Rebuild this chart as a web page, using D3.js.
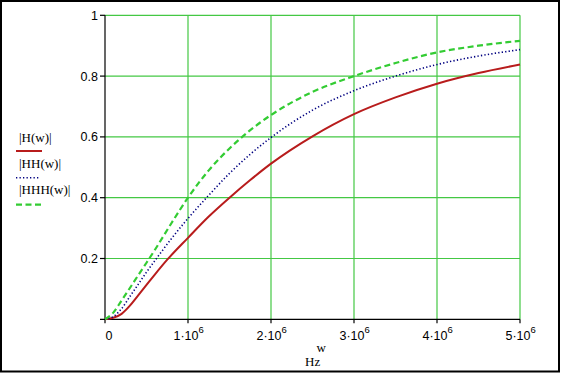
<!DOCTYPE html>
<html><head><meta charset="utf-8">
<script src="https://cdn.jsdelivr.net/npm/d3@7"></script>
<style>html,body{margin:0;padding:0;background:#fff;overflow:hidden}</style>
</head><body>
<svg id="c" width="561" height="384"></svg>
<script>
// w in units of 1e6 Hz
const wH = [0,0.1,0.2,0.3,0.4,0.5,0.6,0.75,1.0,1.25,1.5,1.75,2.0,2.5,3.0,3.5,4.0,4.5,5.0];
const vH = [0,0.005,0.018,0.045,0.079,0.113,0.147,0.196,0.268,0.338,0.4,0.458,0.512,0.602,0.675,0.73,0.775,0.81,0.838];
const wHH = [0,0.1,0.2,0.3,0.4,0.5,0.62,0.8,1.0,1.25,1.5,1.75,2.0,2.5,3.0,3.5,4.0,4.5,5.0];
const vHH = [0,0.009,0.035,0.075,0.115,0.155,0.2,0.265,0.332,0.408,0.48,0.543,0.598,0.688,0.752,0.8,0.838,0.866,0.887];
const wHHH = [0,0.1,0.2,0.3,0.4,0.5,0.6,0.8,1.0,1.25,1.5,1.75,2.0,2.5,3.0,3.5,4.0,4.5,5.0];
const vHHH = [0,0.022,0.062,0.103,0.145,0.186,0.228,0.316,0.40,0.49,0.562,0.622,0.672,0.748,0.80,0.843,0.878,0.9,0.916];
const xTicks = [0,1,2,3,4,5];
const yTicks = [0.2,0.4,0.6,0.8,1];
const yTickLabels = ["0.2","0.4","0.6","0.8","1"];
const legendLabels = ["|H(w)|","|HH(w)|","|HHH(w)|"];

const svg = d3.select("#c");
const x = d3.scaleLinear().domain([0,5]).range([105,520]);
const y = d3.scaleLinear().domain([0,1]).range([319.3,15.3]);
const grid = "#44c844";

svg.append("rect").attr("x",1).attr("y",1).attr("width",558).attr("height",370.5)
  .attr("fill","#fff").attr("stroke","#000").attr("stroke-width",2);

// grid
svg.selectAll(".vg").data(xTicks.slice(1)).enter().append("line")
  .attr("x1",d=>x(d)).attr("x2",d=>x(d)).attr("y1",y(0)).attr("y2",y(1))
  .attr("stroke",grid).attr("stroke-width",1.2);
svg.selectAll(".hg").data(yTicks).enter().append("line")
  .attr("x1",x(0)).attr("x2",x(5)).attr("y1",d=>y(d)).attr("y2",d=>y(d))
  .attr("stroke",grid).attr("stroke-width",1.2);

// axes
svg.append("line").attr("x1",x(0)).attr("x2",x(0)).attr("y1",y(0)).attr("y2",y(1)).attr("stroke","#000").attr("stroke-width",1.2);
svg.append("line").attr("x1",x(0)-5).attr("x2",x(5)).attr("y1",y(0)).attr("y2",y(0)).attr("stroke","#000").attr("stroke-width",1.2);
svg.selectAll(".yt").data(yTicks).enter().append("line")
  .attr("x1",x(0)-5).attr("x2",x(0)).attr("y1",d=>y(d)).attr("y2",d=>y(d)).attr("stroke","#000").attr("stroke-width",1.2);
svg.selectAll(".xt").data(xTicks).enter().append("line")
  .attr("x1",d=>x(d)).attr("x2",d=>x(d)).attr("y1",y(0)).attr("y2",y(0)+4).attr("stroke","#000").attr("stroke-width",1.2);

// y tick labels
svg.selectAll(".yl").data(yTicks).enter().append("text")
  .attr("x",98).attr("y",d=>y(d)+4.5).attr("text-anchor","end")
  .attr("font-family","Liberation Sans, Arial, sans-serif").attr("font-size",12.5)
  .text((d,i)=>yTickLabels[i]);

// x tick labels
xTicks.forEach(t=>{
  const tx = svg.append("text").attr("y",340)
    .attr("font-family","Liberation Sans, Arial, sans-serif").attr("font-size",12.5);
  if(t===0){ tx.attr("x",x(t)+0.5).text("0"); }
  else {
    tx.attr("x",x(t)-14.5);
    tx.append("tspan").text(t+"\u00B710");
    tx.append("tspan").attr("dy",-7).attr("font-size",9.5).text("6");
  }
});

// axis title
svg.append("text").attr("x",316.5).attr("y",352).attr("font-family","Liberation Serif, Times New Roman, serif").attr("font-size",13).text("w");
svg.append("text").attr("x",305).attr("y",366).attr("font-family","Liberation Serif, Times New Roman, serif").attr("font-size",13).text("Hz");

// curves
const series = [
  {w:wH, v:vH, color:"#b81c1c", dash:null, width:2},
  {w:wHH, v:vHH, color:"#000080", dash:"1.3,2.2", width:1.6},
  {w:wHHH, v:vHHH, color:"#33cc33", dash:"6,3.5", width:2.2}
];
const line = d3.line().x(d=>x(d[0])).y(d=>y(d[1])).curve(d3.curveMonotoneX);
series.forEach(s=>{
  const pts = s.w.map((w,i)=>[w,s.v[i]]);
  const p = svg.append("path").attr("d",line(pts)).attr("fill","none")
    .attr("stroke",s.color).attr("stroke-width",s.width);
  if(s.dash) p.attr("stroke-dasharray",s.dash);
});

// legend
legendLabels.forEach((lab,i)=>{
  svg.append("text").attr("x",19).attr("y",142+26*i)
    .attr("font-family","Liberation Serif, Times New Roman, serif").attr("font-size",13).text(lab);
  const s = series[i];
  const ly = 151+26.8*i;
  const l = svg.append("line").attr("x1",16).attr("x2",i===1?40:42).attr("y1",ly).attr("y2",ly)
    .attr("stroke",s.color).attr("stroke-width",s.width);
  if(s.dash) l.attr("stroke-dasharray",s.dash);
});
</script>
</body></html>
